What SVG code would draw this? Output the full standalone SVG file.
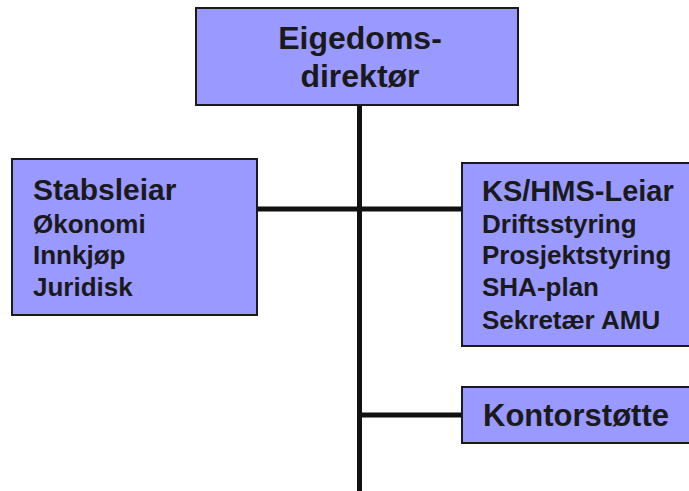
<svg xmlns="http://www.w3.org/2000/svg" width="689" height="491" viewBox="0 0 689 491">
<style>
.box{fill:#9999ff;stroke:#1a1a1a;stroke-width:2}
.t{font-family:"Liberation Sans",Arial,sans-serif;font-weight:bold;fill:#1a1a1a}
.s{font-size:26px}
.line{stroke:#111;stroke-width:5;fill:none}
</style>
<rect width="689" height="491" fill="#fff"/>
<g id="connectors">
<line class="line" x1="359.5" y1="105" x2="359.5" y2="491"/>
<line class="line" x1="257" y1="209" x2="462" y2="209"/>
<line class="line" x1="359.5" y1="415" x2="462" y2="415"/>
</g>
<g id="eigedomsdirektor">
<rect class="box" x="196" y="8" width="322" height="97"/>
<text class="t" x="360" y="49" font-size="32" text-anchor="middle">Eigedoms-</text>
<text class="t" x="360" y="87" font-size="32" text-anchor="middle">direktør</text>
</g>
<g id="stabsleiar">
<rect class="box" x="12" y="159" width="245" height="156"/>
<text class="t" x="33" y="200" font-size="30">Stabsleiar</text>
<text class="t s" x="33" y="233">Økonomi</text>
<text class="t s" x="33" y="264">Innkjøp</text>
<text class="t s" x="33" y="296">Juridisk</text>
</g>
<g id="kshms">
<rect class="box" x="462" y="163" width="240" height="183"/>
<text class="t" x="482" y="201" font-size="29">KS/HMS-Leiar</text>
<text class="t s" x="482" y="233">Driftsstyring</text>
<text class="t s" x="482" y="264">Prosjektstyring</text>
<text class="t s" x="482" y="296">SHA-plan</text>
<text class="t s" x="482" y="329">Sekretær AMU</text>
</g>
<g id="kontorstotte">
<rect class="box" x="462" y="387" width="240" height="56"/>
<text class="t" x="483" y="426" font-size="31">Kontorstøtte</text>
</g>
</svg>
